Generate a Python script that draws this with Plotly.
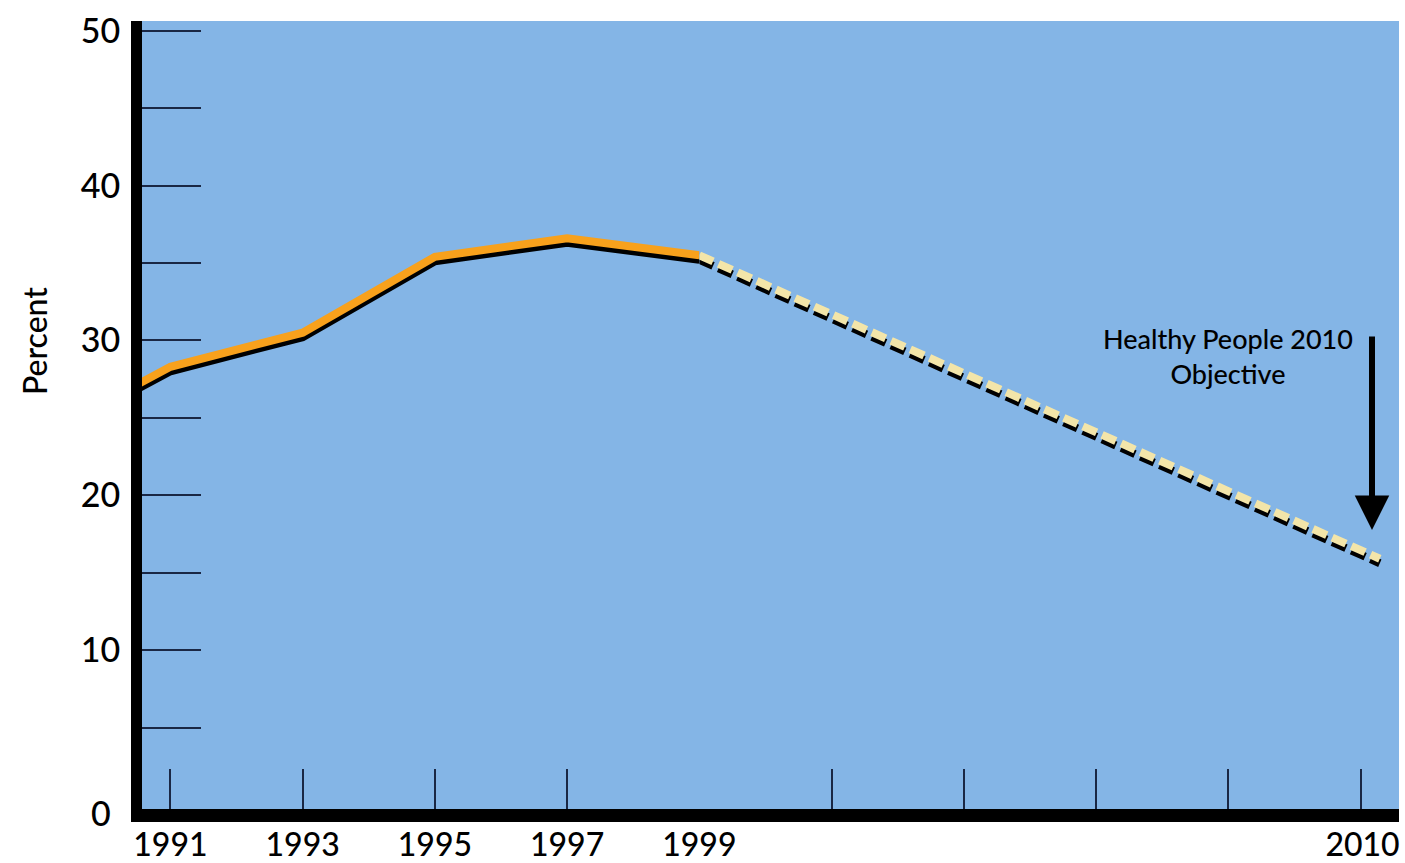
import plotly.graph_objects as go

# ---------------- data ----------------
obs_years = [1990, 1991, 1993, 1995, 1997, 1999]
obs_values = [26.0, 28.3, 30.5, 35.4, 36.6, 35.5]
proj_years = [1999, 2010]
proj_values = [35.5, 15.9]
y_tick_vals = [5, 10, 15, 20, 25, 30, 35, 40, 45, 50]
y_tick_text = ["", "10", "", "20", "", "30", "", "40", "", "50"]
x_tick_vals = [1991, 1993, 1995, 1997, 1999]
x_tick_text = ["1991", "1993", "1995", "1997", "1999"]
objective_label = "Healthy People 2010<br>Objective"
y_title = "Percent"

# ---------------- style / layout ----------------
W, H = 1405, 863
ML, MR, MT, MB = 142, 6, 21, 54
PW, PH = W - ML - MR, H - MT - MB
BG = "#84B5E6"
ORANGE = "#F8A11C"
CREAM = "#F3E5A9"
NAVY = "#1A2744"
FONT = "Lato"
WEIGHT = 500

Y_RANGE = [-0.26, 50.63]
px_per_unit = PH / (Y_RANGE[1] - Y_RANGE[0])
shadow_dy = 4.5 / px_per_unit

X1_RANGE = [1990.57, 1999]
X2_RANGE = [1999, 2010.31]
split = 0.4434
px_per_year1 = split * PW / (X1_RANGE[1] - X1_RANGE[0])
px_per_year2 = (1 - split) * PW / (X2_RANGE[1] - X2_RANGE[0])
tick_step2 = 2 * px_per_year1 / px_per_year2
x2_tick_vals = [1999 + k * tick_step2 for k in range(1, 6)]
x2_tick_text = ["", "", "", "", "2010"]

fig = go.Figure()

# shadows
fig.add_trace(go.Scatter(x=obs_years, y=[v - shadow_dy for v in obs_values],
                         mode="lines", line=dict(color="black", width=8),
                         xaxis="x", yaxis="y", hoverinfo="skip", showlegend=False))
fig.add_trace(go.Scatter(x=proj_years, y=[v - shadow_dy for v in proj_values],
                         mode="lines", line=dict(color="black", width=8, dash="15px,6px"),
                         xaxis="x2", yaxis="y", hoverinfo="skip", showlegend=False))
# main lines
fig.add_trace(go.Scatter(x=obs_years, y=obs_values, mode="lines",
                         line=dict(color=ORANGE, width=8),
                         xaxis="x", yaxis="y", showlegend=False))
fig.add_trace(go.Scatter(x=proj_years, y=proj_values, mode="lines",
                         line=dict(color=CREAM, width=8, dash="15px,6px"),
                         xaxis="x2", yaxis="y", showlegend=False))

axis_common = dict(showgrid=False, zeroline=False, showline=True, linecolor="black",
                   ticks="inside", tickcolor=NAVY, tickwidth=2, automargin=False,
                   ticklabeloverflow="allow")
xfont = dict(family=FONT, size=32, color="black", weight=WEIGHT)

fig.update_layout(
    width=W, height=H,
    margin=dict(l=ML, r=MR, t=MT, b=MB, pad=0, autoexpand=False),
    paper_bgcolor="white", plot_bgcolor="rgba(0,0,0,0)",
    showlegend=False,
    shapes=[dict(type="rect", xref="paper", yref="paper", x0=0, x1=1, y0=0, y1=1,
                 fillcolor=BG, line=dict(width=0), layer="below")],
    xaxis=dict(domain=[0, split], range=X1_RANGE, anchor="y",
               tickmode="array", tickvals=x_tick_vals, ticktext=x_tick_text,
               ticklen=40, linewidth=13, ticklabelstandoff=-4,
               tickfont=xfont, **axis_common),
    xaxis2=dict(domain=[split, 1], range=X2_RANGE, anchor="y",
                tickmode="array", tickvals=x2_tick_vals, ticktext=x2_tick_text,
                ticklen=40, linewidth=13, ticklabelshift=2, ticklabelstandoff=-4,
                tickfont=xfont, **axis_common),
    yaxis=dict(domain=[0, 1], range=Y_RANGE, anchor="x",
               tickmode="array", tickvals=y_tick_vals, ticktext=y_tick_text,
               ticklen=59, linewidth=11, ticklabelstandoff=4,
               tickfont=dict(family=FONT, size=34, color="black", weight=WEIGHT),
               **axis_common),
    annotations=[
        dict(text="0", xref="paper", yref="paper", x=(113 - ML) / PW, y=(809 - 813) / PH,
             xanchor="right", yanchor="middle", showarrow=False,
             font=dict(family=FONT, size=34, color="black", weight=WEIGHT)),
        dict(text=y_title, xref="paper", yref="paper", x=(34 - ML) / PW,
             y=(809 - 341) / PH, textangle=-90, xanchor="center", yanchor="middle",
             showarrow=False, font=dict(family=FONT, size=32, color="black", weight=WEIGHT)),
        dict(text=objective_label, xref="paper", yref="paper",
             x=(1228 - ML) / PW, y=(809 - 356) / PH, xanchor="center", yanchor="middle",
             showarrow=False, font=dict(family=FONT, size=27, color="black", weight=WEIGHT)),
        dict(text="", xref="paper", yref="paper", x=(1372 - ML) / PW, y=(809 - 530) / PH,
             axref="pixel", ayref="pixel", ax=0, ay=-195, showarrow=True,
             arrowhead=2, arrowsize=1.15, arrowwidth=6, arrowcolor="black"),
    ],
)

fig.write_html("out.html", config={"displayModeBar": False},
               post_script="document.body.style.margin='0';document.body.style.overflow='hidden';")
